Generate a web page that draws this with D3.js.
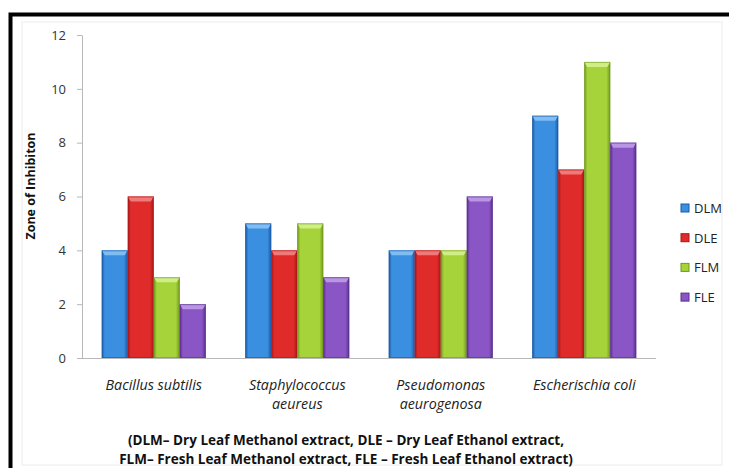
<!DOCTYPE html>
<html><head><meta charset="utf-8">
<script src="https://cdn.jsdelivr.net/npm/d3@7"></script>
<style>
html,body{margin:0;padding:0;background:#fff;}
svg{display:block;}
</style></head>
<body><svg id="c" width="729" height="468"></svg>
<script>
const categories = [["Bacillus subtilis"], ["Staphylococcus", "aeureus"], ["Pseudomonas", "aeurogenosa"], ["Escherischia coli"]];
const seriesNames = ["DLM", "DLE", "FLM", "FLE"];
const dlm = [4, 5, 4, 9];
const dle = [6, 4, 4, 7];
const flm = [3, 5, 4, 11];
const fle = [2, 3, 6, 8];
const yTicks = [0, 2, 4, 6, 8, 10, 12];
const yTitle = "Zone of Inhibiton";
const footnote = ["(DLM\u2013 Dry Leaf Methanol extract, DLE \u2013 Dry Leaf Ethanol extract,",
                  "FLM\u2013 Fresh Leaf Methanol extract, FLE \u2013 Fresh Leaf Ethanol extract)"];
const seriesValues = [dlm, dle, flm, fle];
const colors = [
  {mid:"#3b8fe0", edge:"#1a5aa6", top:"#7fbdf2"},
  {mid:"#e02b2b", edge:"#a81818", top:"#f07a7a"},
  {mid:"#a6d23a", edge:"#6f9a1c", top:"#d0ee86"},
  {mid:"#8a55c4", edge:"#5a2f8e", top:"#b996e2"}
];

const svg = d3.select("#c");
const font = "'Open Sans', Lato, 'DejaVu Sans', sans-serif";

// frame
svg.append("rect").attr("x", 22).attr("y", 22).attr("width", 700).attr("height", 443)
  .attr("fill", "none").attr("stroke", "#ececec").attr("stroke-width", 1);
svg.append("path").attr("d", "M10.5,480 L10.5,14.5 L740,14.5")
  .attr("fill", "none").attr("stroke", "#000").attr("stroke-width", 4);

const defs = svg.append("defs");
colors.forEach((c, i) => {
  const g = defs.append("linearGradient").attr("id", "g" + i)
    .attr("x1", "0").attr("x2", "1").attr("y1", "0").attr("y2", "0");
  g.append("stop").attr("offset", "0").attr("stop-color", c.edge);
  g.append("stop").attr("offset", "0.12").attr("stop-color", c.mid);
  g.append("stop").attr("offset", "0.85").attr("stop-color", c.mid);
  g.append("stop").attr("offset", "1").attr("stop-color", c.edge);
});

const x0 = d3.scaleBand().domain(d3.range(categories.length)).range([82, 656])
  .paddingInner(0.275).paddingOuter(0.1375);
const x1 = d3.scaleBand().domain(d3.range(seriesNames.length)).range([0, x0.bandwidth()]);
const y = d3.scaleLinear().domain([0, 12]).range([358, 35]);

// y axis
const yAxis = d3.axisLeft(y).tickValues(yTicks).tickSize(5).tickSizeOuter(0).tickPadding(11);
const ya = svg.append("g").attr("transform", "translate(82,0)").call(yAxis);
ya.select(".domain").attr("stroke", "#b8b8b8");
ya.selectAll(".tick line").attr("stroke", "#b8b8b8");
ya.selectAll(".tick text").attr("font-family", font).attr("font-size", 13).attr("fill", "#333");

// x axis line
svg.append("line").attr("x1", 82).attr("x2", 656).attr("y1", 358.5).attr("y2", 358.5)
  .attr("stroke", "#b8b8b8");

// bars
const groups = svg.append("g").selectAll("g").data(categories).join("g")
  .attr("transform", (d, i) => `translate(${x0(i)},0)`);
groups.each(function(d, ci) {
  const g = d3.select(this);
  seriesValues.forEach((vals, si) => {
    const bx = x1(si), bw = x1.bandwidth();
    const top = y(vals[ci]), h = y(0) - y(vals[ci]);
    g.append("rect").attr("x", bx).attr("y", top).attr("width", bw).attr("height", h)
      .attr("fill", `url(#g${si})`);
    g.append("path")
      .attr("d", `M${bx},${top} L${bx + bw},${top} L${bx + bw - 3},${top + 5} L${bx + 3},${top + 5} Z`)
      .attr("fill", colors[si].top);
    g.append("rect").attr("x", bx + 0.5).attr("y", top + 0.5).attr("width", bw - 1).attr("height", h - 1)
      .attr("fill", "none").attr("stroke", colors[si].edge).attr("stroke-opacity", 0.6);
  });
});

// category labels
const lab = svg.append("g");
categories.forEach((lines, i) => {
  const t = lab.append("text").attr("x", x0(i) + x0.bandwidth() / 2).attr("y", 390)
    .attr("text-anchor", "middle").attr("font-family", font).attr("font-style", "italic")
    .attr("font-size", 14.3).attr("fill", "#222");
  lines.forEach((l, j) => t.append("tspan").attr("x", x0(i) + x0.bandwidth() / 2)
    .attr("dy", j === 0 ? 0 : 19).text(l));
});

// y title
svg.append("text").attr("transform", "translate(35,186) rotate(-90)")
  .attr("text-anchor", "middle").attr("font-family", font).attr("font-weight", "bold")
  .attr("font-size", 12.5).attr("fill", "#111").text(yTitle);

// legend
const leg = svg.append("g");
seriesNames.forEach((n, i) => {
  const cy = 208 + i * 29.7;
  leg.append("rect").attr("x", 681).attr("y", cy - 4).attr("width", 8).attr("height", 8)
    .attr("fill", colors[i].mid).attr("stroke", colors[i].edge);
  leg.append("text").attr("x", 694).attr("y", cy + 5).attr("font-family", font)
    .attr("font-size", 13).attr("fill", "#222").text(n);
});

// footnote
footnote.forEach((l, i) => {
  svg.append("text").attr("x", 346).attr("y", 445 + i * 19).attr("text-anchor", "middle")
    .attr("font-family", font).attr("font-weight", "bold").attr("font-size", 13.5)
    .attr("fill", "#111").text(l);
});
</script></body></html>
